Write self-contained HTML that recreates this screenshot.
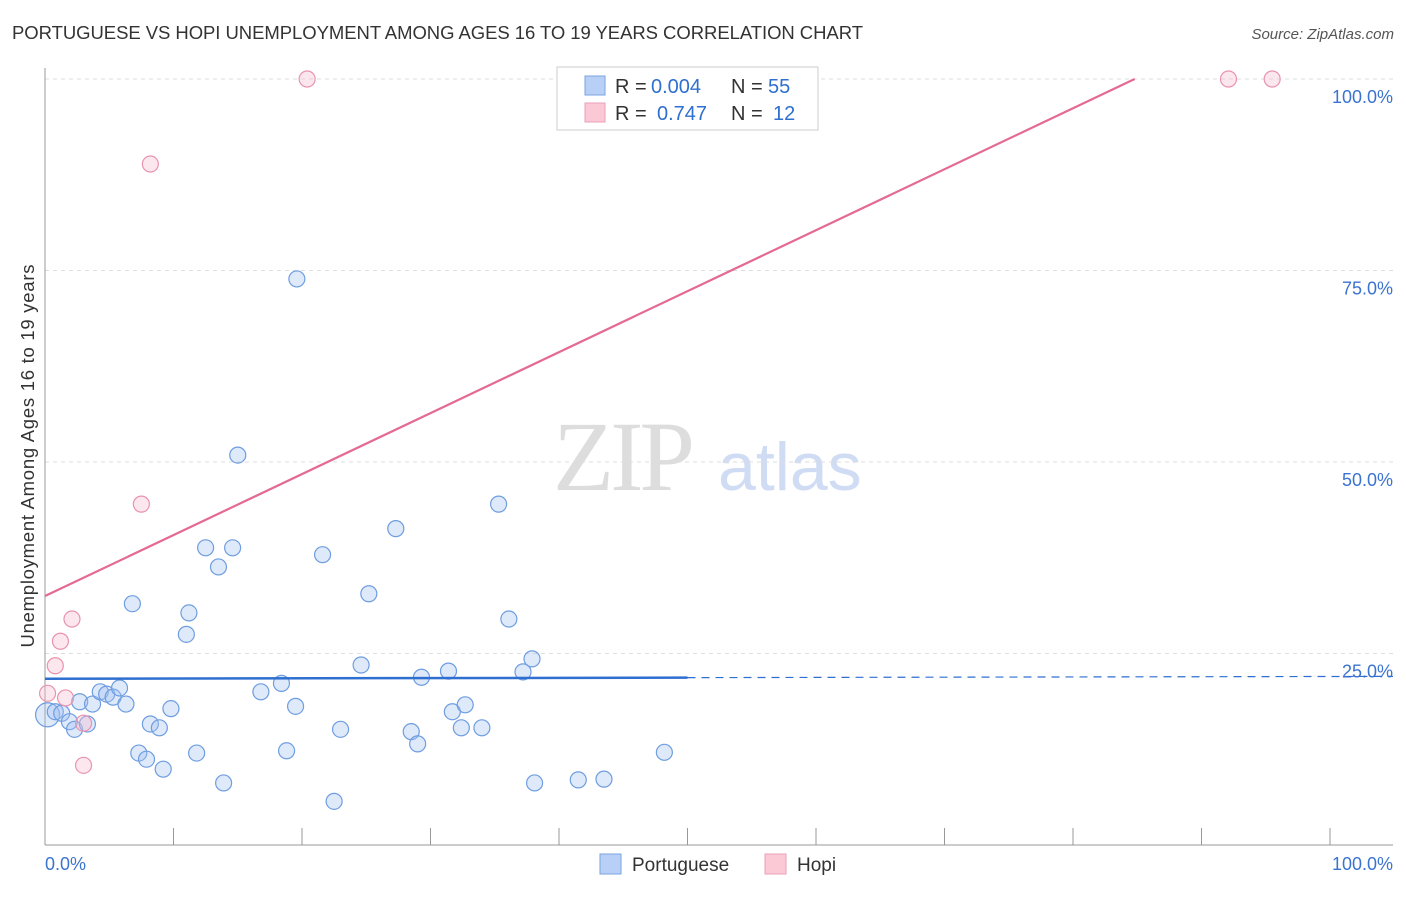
<!DOCTYPE html>
<html><head><meta charset="utf-8"><style>
body{margin:0;background:#fff;font-family:"Liberation Sans",sans-serif}
svg text{font-family:"Liberation Sans",sans-serif}
</style></head><body>
<svg id="c" width="1406" height="892">
<text x="12" y="39" font-size="18.5" fill="#333" textLength="851">PORTUGUESE VS HOPI UNEMPLOYMENT AMONG AGES 16 TO 19 YEARS CORRELATION CHART</text>
<text x="1394" y="39" font-size="15" fill="#555" font-style="italic" text-anchor="end">Source: ZipAtlas.com</text>
<text x="34" y="456" font-size="18.5" fill="#333" text-anchor="middle" textLength="383" transform="rotate(-90 34 456)">Unemployment Among Ages 16 to 19 years</text>
<text x="553" y="490" font-size="100" fill="#ddd" style="font-family:'Liberation Serif',serif" letter-spacing="-4">ZIP</text>
<text x="718" y="490" font-size="68" fill="#cfdcf3">atlas</text>
<g id="grid"></g><g id="marks"></g>
<g>
<rect x="557" y="67" width="261" height="63" fill="#fff" stroke="#ccc"/>
<rect x="585" y="76" width="20" height="19" fill="#b8d0f5" stroke="#7aa3e0"/>
<rect x="585" y="103" width="20" height="19" fill="#fbc8d6" stroke="#eaa0b5"/>
<text x="615" y="93" font-size="20" fill="#333">R =</text>
<text x="651" y="93" font-size="20" fill="#2f6fd0">0.004</text>
<text x="731" y="93" font-size="20" fill="#333">N =</text>
<text x="768" y="93" font-size="20" fill="#2f6fd0">55</text>
<text x="615" y="120" font-size="20" fill="#333">R =</text>
<text x="657" y="120" font-size="20" fill="#2f6fd0">0.747</text>
<text x="731" y="120" font-size="20" fill="#333">N =</text>
<text x="773" y="120" font-size="20" fill="#2f6fd0">12</text>
</g>
<g>
<rect x="600" y="854" width="21" height="20" fill="#b8d0f5" stroke="#7aa3e0"/>
<text x="632" y="871" font-size="19" fill="#333">Portuguese</text>
<rect x="765" y="854" width="21" height="20" fill="#fbc8d6" stroke="#eaa0b5"/>
<text x="797" y="871" font-size="19" fill="#333">Hopi</text>
</g>
<text x="45" y="870" font-size="18" fill="#3b73d0">0.0%</text>
<text x="1393" y="870" font-size="18" fill="#3b73d0" text-anchor="end">100.0%</text>
</svg>
<script>
const yTicks=[100,75,50,25];
const yTickLabels=["100.0%","75.0%","50.0%","25.0%"];
const portX=[0.2,0.8,1.3,1.9,2.3,2.7,3.3,3.7,4.3,4.8,5.3,5.8,6.3,6.8,7.3,7.9,8.2,8.9,9.2,9.8,11.0,11.2,11.8,12.5,13.5,13.9,14.6,15.0,16.8,18.4,18.8,19.5,19.6,21.6,22.5,23.0,24.6,25.2,27.3,28.5,29.0,29.3,31.4,31.7,32.4,32.7,34.0,35.3,36.1,37.2,37.9,38.1,41.5,43.5,48.2];
const portY=[17.0,17.4,17.2,16.1,15.1,18.7,15.8,18.4,20.0,19.7,19.3,20.5,18.4,31.5,12.0,11.2,15.8,15.3,9.9,17.8,27.5,30.3,12.0,38.8,36.3,8.1,38.8,50.9,20.0,21.1,12.3,18.1,73.9,37.9,5.7,15.1,23.5,32.8,41.3,14.8,13.2,21.9,22.7,17.4,15.3,18.3,15.3,44.5,29.5,22.6,24.3,8.1,8.5,8.6,12.1];
const hopiX=[0.2,0.8,1.2,2.1,1.6,3.0,3.0,7.5,8.2,20.4,92.1,95.5];
const hopiY=[19.8,23.4,26.6,29.5,19.2,10.4,15.9,44.5,88.9,100,100,100];
const portTrend=[21.7,22.0];
const hopiTrend=[32.5,0.796];
const X=v=>45+v*12.85, Y=v=>845-v*7.66;
const NS="http://www.w3.org/2000/svg";
const grid=document.getElementById('grid'), marks=document.getElementById('marks');
function mk(p,tag,a){const e=document.createElementNS(NS,tag);for(const k in a)e.setAttribute(k,a[k]);p.appendChild(e);return e;}
yTicks.forEach((t,i)=>{
 const l=mk(grid,'line',{x1:45,x2:1393,y1:Y(t),y2:Y(t),stroke:'#ddd','stroke-dasharray':'4,4'});
 
 
 const tx=mk(grid,'text',{x:1393,y:Y(t)+24,'font-size':18,fill:'#3b73d0','text-anchor':'end'});
 tx.textContent=yTickLabels[i];
 
 
});
mk(grid,'line',{x1:45,x2:45,y1:68,y2:845,stroke:'#999'});
mk(grid,'line',{x1:45,x2:1393,y1:845,y2:845,stroke:'#999'});
for(let i=0;i<=10;i++){const t=mk(grid,'line',{x1:X(i*10),x2:X(i*10),y1:828,y2:845,stroke:'#999'});
 
 }
portX.forEach((x,i)=>{const c=mk(marks,'circle',{cx:X(x),cy:Y(portY[i]),r:i==0?12:8,fill:'rgba(160,192,240,0.35)',stroke:'#6e9de0','stroke-width':1.2});
 
 });
hopiX.forEach((x,i)=>{const c=mk(marks,'circle',{cx:X(x),cy:Y(hopiY[i]),r:8,fill:'rgba(248,185,205,0.35)',stroke:'#e993ad','stroke-width':1.2});
 
 });
const pm=(portTrend[1]-portTrend[0])/100;
let l1=mk(marks,'line',{x1:X(0),y1:Y(portTrend[0]),x2:X(50),y2:Y(portTrend[0]+pm*50),stroke:'#2f6fd0','stroke-width':2.5});


let l2=mk(marks,'line',{x1:X(50),y1:Y(portTrend[0]+pm*50),x2:1393,y2:Y(portTrend[0]+pm*104.9),stroke:'#2f6fd0','stroke-width':1.2,'stroke-dasharray':'8,6'});


const hx=(100-hopiTrend[0])/hopiTrend[1];
let l3=mk(marks,'line',{x1:X(0),y1:Y(hopiTrend[0]),x2:X(hx),y2:Y(100),stroke:'#e46a93','stroke-width':2.2});


</script>
</body></html>
